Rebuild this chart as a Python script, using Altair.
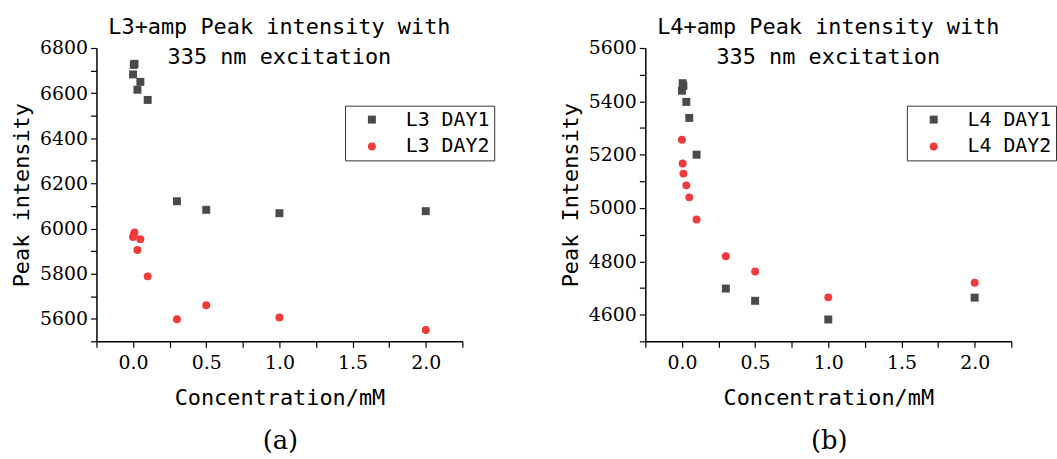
import altair as alt
import pandas as pd

conc = [0, 0.005, 0.01, 0.03, 0.05, 0.1, 0.3, 0.5, 1.0, 2.0]
l3_day1 = [6683, 6725, 6730, 6615, 6650, 6570, 6121, 6083, 6068, 6077]
l3_day2 = [5962, 5972, 5982, 5905, 5953, 5788, 5598, 5660, 5606, 5550]
l4_day1 = [5440, 5468, 5458, 5398, 5338, 5200, 4698, 4652, 4582, 4664]
l4_day2 = [5256, 5167, 5129, 5085, 5040, 4957, 4819, 4762, 4665, 4720]

x_ticks = [-0.25, 0, 0.25, 0.5, 0.75, 1.0, 1.25, 1.5, 1.75, 2.0, 2.25]
l3_yticks = list(range(5500, 6801, 100))
l4_yticks = list(range(4500, 5601, 100))

MONO = "DejaVu Sans Mono"
SERIF = "DejaVu Serif"
W, H = 368, 295


def make_df(d1, d2, n1, n2):
    rows = []
    for c, v in zip(conc, d1):
        rows.append({"conc": c, "intensity": v, "series": n1})
    for c, v in zip(conc, d2):
        rows.append({"conc": c, "intensity": v, "series": n2})
    return pd.DataFrame(rows)


def panel(df, names, title_lines, ydom, yvals, ytitle, letter, legx):
    leg = alt.Legend(
        title=None, orient="none", legendX=legx, legendY=58,
        strokeColor="#333333", fillColor="white", padding=4,
        labelFont=MONO, labelFontSize=20, labelColor="black",
        symbolSize=64, rowPadding=7, labelOffset=24, symbolOffset=13,
        symbolStrokeWidth=0,
    )
    pts = alt.Chart(df).mark_point(filled=True, size=64, opacity=1).encode(
        x=alt.X("conc:Q",
                scale=alt.Scale(domain=[-0.25, 2.25], nice=False, zero=False),
                axis=alt.Axis(values=x_ticks,
                              labelExpr="abs(datum.value*2 - round(datum.value*2)) < 0.001 ? format(datum.value, '.1f') : ''",
                              title="Concentration/mM")),
        y=alt.Y("intensity:Q",
                scale=alt.Scale(domain=ydom, nice=False, zero=False),
                axis=alt.Axis(values=yvals,
                              labelExpr="datum.value % 200 == 0 ? format(datum.value, 'd') : ''",
                              title=ytitle)),
        color=alt.Color("series:N", scale=alt.Scale(domain=names, range=["#4a4a4a", "#ef3b3b"]), legend=leg),
        shape=alt.Shape("series:N", scale=alt.Scale(domain=names, range=["square", "circle"]), legend=leg),
    )
    lab = alt.Chart(pd.DataFrame({"label": [letter]})).mark_text(
        font=SERIF, fontSize=26, color="black", baseline="middle", align="center"
    ).encode(text="label:N", x=alt.value(185), y=alt.value(395))
    return alt.layer(pts, lab).properties(
        width=W, height=H,
        title=alt.TitleParams(text=title_lines, font=MONO, fontSize=22, fontWeight="normal",
                              lineHeight=30, anchor="middle", offset=-30, color="black"),
    )


left = panel(make_df(l3_day1, l3_day2, "L3 DAY1", "L3 DAY2"), ["L3 DAY1", "L3 DAY2"],
             ["L3+amp Peak intensity with", "335 nm excitation"], [5500, 6800], l3_yticks,
             "Peak intensity", "(a)", 250)
right = panel(make_df(l4_day1, l4_day2, "L4 DAY1", "L4 DAY2"), ["L4 DAY1", "L4 DAY2"],
              ["L4+amp Peak intensity with", "335 nm excitation"], [4500, 5600], l4_yticks,
              "Peak Intensity", "(b)", 263)

chart = alt.hconcat(left, right, spacing=184, bounds="flush").resolve_scale(
    color="independent", shape="independent"
).properties(
    padding={"left": 10, "top": 15, "right": 0, "bottom": 0}
).configure_view(stroke=None).configure_axis(
    grid=False, domainColor="black", domainWidth=1.5, tickColor="black", tickWidth=1.2,
    tickSize=6, labelFont=SERIF, labelFontSize=19, labelColor="black",
    titleFont=MONO, titleFontSize=22, titleFontWeight="normal", titleColor="black",
    labelPadding=3,
).configure_axisY(titlePadding=6).configure_axisX(titlePadding=16, labelPadding=6)

chart.save("out.html", embed_options={"renderer": "svg", "actions": False})
